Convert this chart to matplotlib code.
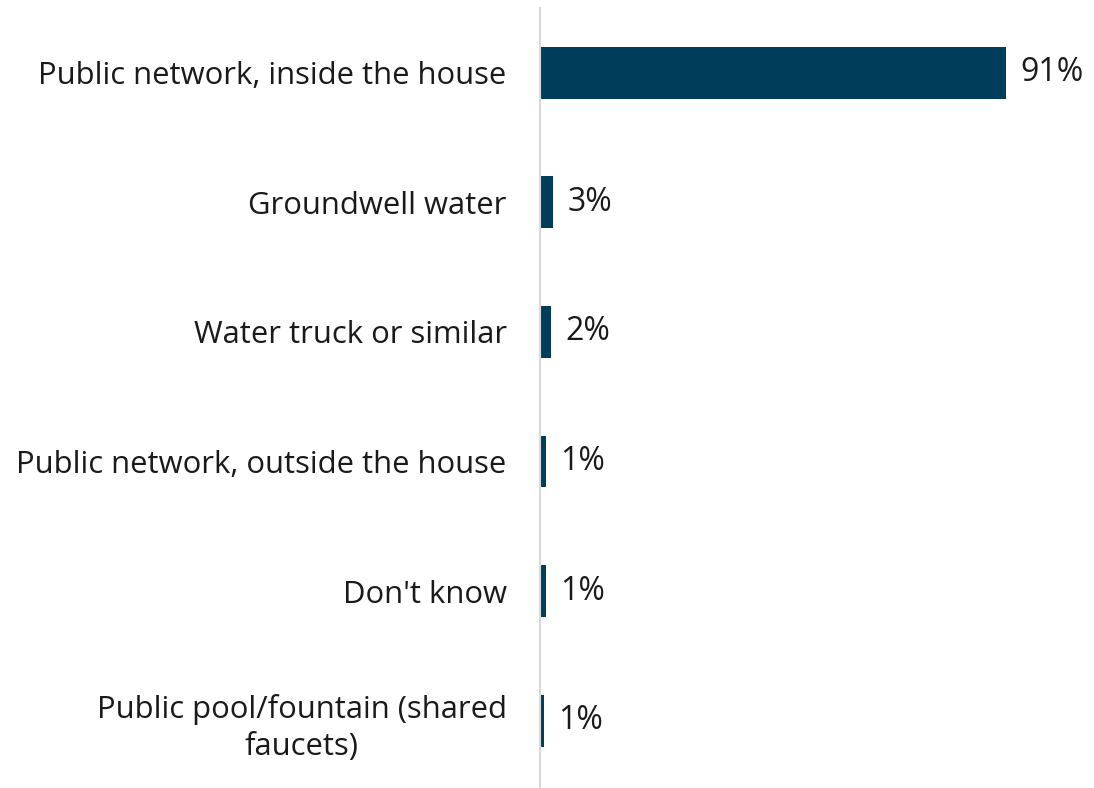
import matplotlib
matplotlib.use('Agg')
from matplotlib import pyplot as plt

plt.rcParams['font.family'] = ['Open Sans', 'DejaVu Sans']

categories = ['Public network, inside the house', 'Groundwell water',
              'Water truck or similar', 'Public network, outside the house',
              "Don't know", 'Public pool/fountain (shared\nfaucets)']
values = [91.0, 2.6, 2.2, 1.2, 1.1, 0.8]
labels = ['91%', '3%', '2%', '1%', '1%', '1%']

bar_color = '#003d5b'

fig = plt.figure(figsize=(10.94, 7.88), dpi=100)
ax = fig.add_axes([540 / 1094, 0.0, 1 - 540 / 1094, 1 - 8 / 788])

pos = list(range(len(categories)))
ax.barh(pos, values, height=0.4, color=bar_color)
for p, v, lab in zip(pos, values, labels):
    ax.text(v + 2.8, p, lab, va='center', ha='left', fontsize=23, color='#1a1a1a')

ax.set_yticks(pos)
ax.set_yticklabels(categories, fontsize=22.3, color='#1a1a1a', linespacing=1.3,
                   multialignment='center')
ax.tick_params(axis='y', length=0, pad=24)
ax.set_xticks([])
ax.set_xlim(0, 554 / 5.12)
ax.set_ylim(len(categories) - 0.48, -0.5)

for s in ['top', 'right', 'bottom']:
    ax.spines[s].set_visible(False)
ax.spines['left'].set_color('#d9d9d9')
ax.spines['left'].set_linewidth(1.5)

plt.savefig('out.png', dpi=100)
